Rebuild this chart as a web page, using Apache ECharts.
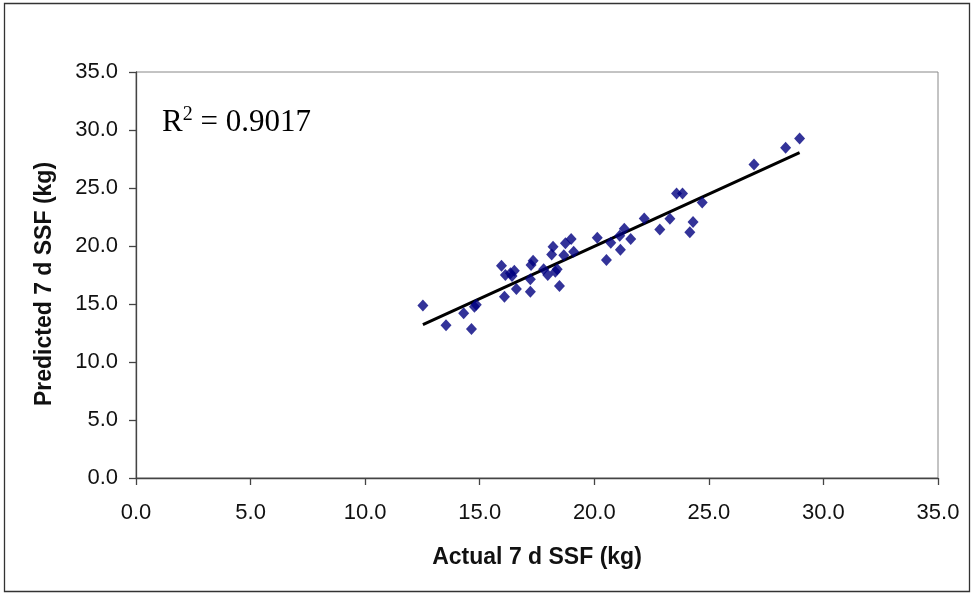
<!DOCTYPE html>
<html>
<head>
<meta charset="utf-8">
<script src="https://cdn.jsdelivr.net/npm/echarts@6/dist/echarts.min.js"></script>
<style>
  html, body { margin: 0; padding: 0; background: #fff; }
  #ssf-chart { width: 975px; height: 596px; }
</style>
</head>
<body>
<div id="ssf-chart"></div>
<script>
// actual vs predicted 7 d SSF (kg)
const actualSsf = [
  12.52, 13.53, 14.30, 14.64, 14.77, 14.85, 15.95, 16.12, 16.08, 16.34,
  16.51, 16.41, 16.60, 17.21, 17.21, 17.33, 17.24, 17.79, 17.97, 18.30,
  18.38, 18.48, 18.14, 18.67, 18.20, 18.74, 18.99, 19.10, 20.13, 20.53,
  20.72, 21.11, 21.31, 21.14, 21.59, 22.18, 22.86, 23.30, 23.59, 23.85,
  24.71, 24.31, 24.17, 26.97, 28.35, 28.96
];
const predictedSsf = [
  14.86, 13.17, 14.20, 12.85, 14.77, 14.94, 18.30, 17.50, 15.63, 17.65,
  17.87, 17.41, 16.30, 16.06, 17.13, 18.73, 18.36, 17.99, 17.50, 17.78,
  17.99, 16.55, 19.27, 19.20, 19.94, 20.23, 20.60, 19.51, 20.71, 18.79,
  20.28, 20.88, 21.48, 19.68, 20.60, 22.38, 21.42, 22.35, 24.53, 24.53,
  23.76, 22.06, 21.18, 27.03, 28.46, 29.27
];
const axisTicks = [0, 5, 10, 15, 20, 25, 30, 35];
const rSquared = '0.9017';

const points = actualSsf.map((x, i) => [x, predictedSsf[i]]);

// least squares fit for the trend line
const n = points.length;
let sx = 0, sy = 0, sxx = 0, sxy = 0;
points.forEach(([x, y]) => { sx += x; sy += y; sxx += x * x; sxy += x * y; });
const slope = (n * sxy - sx * sy) / (n * sxx - sx * sx);
const intercept = (sy - slope * sx) / n;
const xMin = Math.min(...actualSsf);
const xMax = Math.max(...actualSsf);
const trendLine = [[xMin, intercept + slope * xMin], [xMax, intercept + slope * xMax]];

const chart = echarts.init(document.getElementById('ssf-chart'));

const axisCommon = {
  type: 'value',
  min: axisTicks[0],
  max: axisTicks[axisTicks.length - 1],
  interval: 5,
  splitLine: { show: false },
  axisLine: { show: true, onZero: false, lineStyle: { color: '#444', width: 1.3 } },
  axisTick: { show: true, inside: false, length: 7, lineStyle: { color: '#444', width: 1.3 } },
  axisLabel: {
    color: '#111',
    fontFamily: 'Liberation Sans, Arial, sans-serif',
    fontSize: 22,
    formatter: (v) => v.toFixed(1),
  },
  nameLocation: 'middle',
  nameTextStyle: {
    color: '#111',
    fontFamily: 'Liberation Sans, Arial, sans-serif',
    fontSize: 23,
    fontWeight: 'bold',
  },
};

chart.setOption({
  animation: false,
  backgroundColor: '#fff',
  grid: {
    left: 136, right: 37, top: 72, bottom: 118,
    show: true, borderColor: '#888', borderWidth: 1,
  },
  xAxis: Object.assign({}, axisCommon, {
    name: 'Actual 7 d SSF (kg)',
    nameGap: 68,
    axisLabel: Object.assign({}, axisCommon.axisLabel, { margin: 24 }),
  }),
  yAxis: Object.assign({}, axisCommon, {
    name: 'Predicted 7 d SSF (kg)',
    nameGap: 80,
    nameTextStyle: Object.assign({}, axisCommon.nameTextStyle, { padding: [0, 18, 0, 0] }),
    axisLabel: Object.assign({}, axisCommon.axisLabel, { margin: 18 }),
  }),
  graphic: [
    {
      type: 'rect',
      shape: { x: 4.5, y: 3.5, width: 965, height: 588 },
      style: { fill: 'none', stroke: '#333', lineWidth: 1.3 },
      silent: true,
    },
    {
      type: 'text',
      left: 162,
      top: 105,
      style: {
        text: '{r|R}{sup|2}{r| = ' + rSquared + '}',
        rich: {
          r: { fontFamily: 'Liberation Serif, Times New Roman, serif', fontSize: 31, fill: '#000' },
          sup: { fontFamily: 'Liberation Serif, Times New Roman, serif', fontSize: 20, fill: '#000', verticalAlign: 'top', padding: [0, 0, 16, 0] },
        },
      },
    },
  ],
  series: [
    {
      type: 'scatter',
      data: points,
      symbol: 'diamond',
      symbolSize: [11, 12],
      itemStyle: { color: '#000080' },
      z: 3,
    },
    {
      type: 'line',
      data: trendLine,
      symbol: 'none',
      lineStyle: { color: '#000', width: 3 },
      z: 2,
    },
  ],
});
</script>
</body>
</html>
